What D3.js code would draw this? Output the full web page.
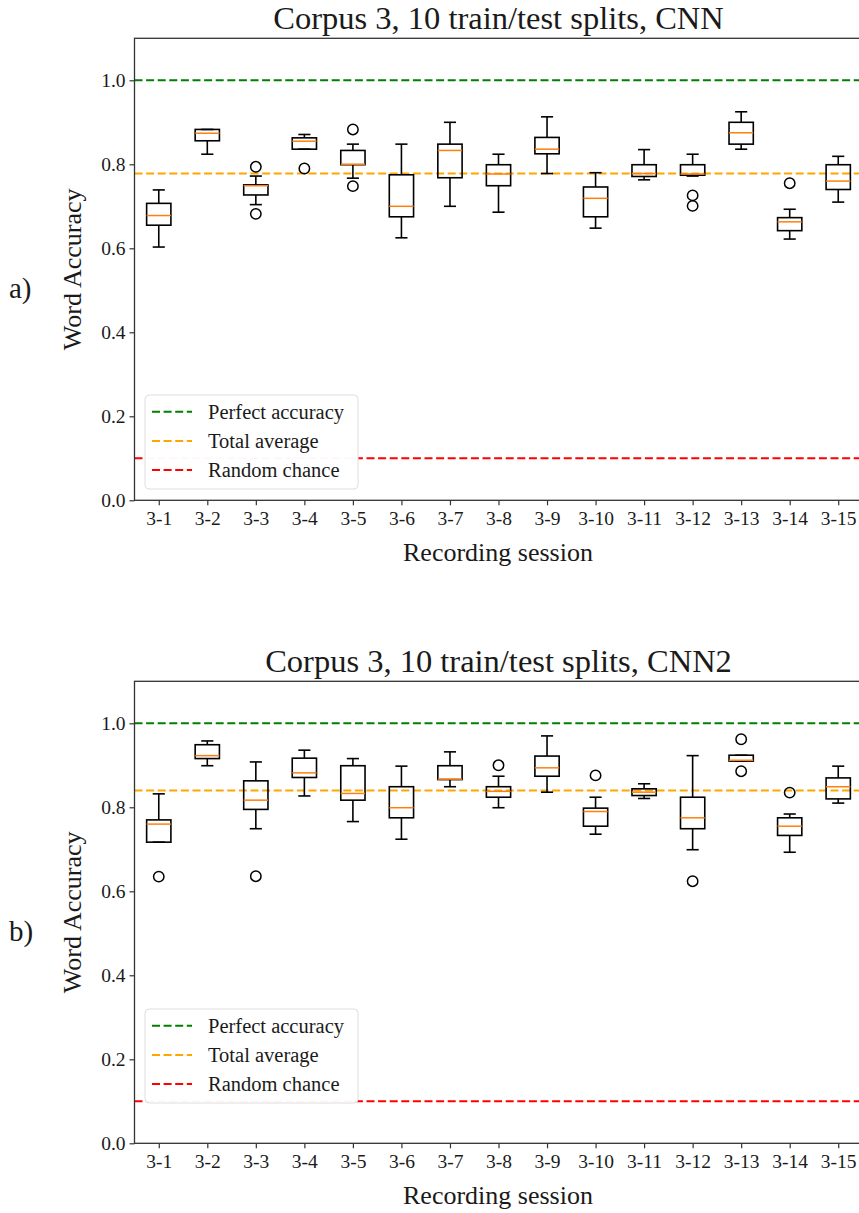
<!DOCTYPE html>
<html>
<head>
<meta charset="utf-8">
<script src="https://cdn.jsdelivr.net/npm/d3@7"></script>
<style>
  html, body { margin: 0; padding: 0; background: #fff; }
  svg { display: block; }
  text { font-family: "Liberation Serif", "Times New Roman", serif; fill: #1a1a1a; }
</style>
</head>
<body>
<script>
// ---------------- data ----------------
const sessions = ["3-1","3-2","3-3","3-4","3-5","3-6","3-7","3-8","3-9","3-10","3-11","3-12","3-13","3-14","3-15"];
const yTicks = [0.0, 0.2, 0.4, 0.6, 0.8, 1.0];

// CNN (panel a)
const cnnLow  = [0.603, 0.824, 0.704, 0.836, 0.767, 0.625, 0.700, 0.686, 0.778, 0.648, 0.763, 0.772, 0.836, 0.622, 0.710];
const cnnQ1   = [0.655, 0.856, 0.727, 0.836, 0.799, 0.675, 0.768, 0.749, 0.825, 0.675, 0.771, 0.774, 0.848, 0.642, 0.740];
const cnnMed  = [0.678, 0.874, 0.749, 0.855, 0.800, 0.700, 0.833, 0.777, 0.836, 0.719, 0.778, 0.777, 0.875, 0.663, 0.760];
const cnnQ3   = [0.707, 0.883, 0.751, 0.863, 0.833, 0.775, 0.848, 0.799, 0.864, 0.746, 0.799, 0.799, 0.900, 0.673, 0.799];
const cnnHigh = [0.739, 0.883, 0.772, 0.871, 0.848, 0.848, 0.900, 0.824, 0.913, 0.780, 0.835, 0.824, 0.925, 0.693, 0.819];
const cnnOutliers = [[], [], [0.794, 0.682], [0.790], [0.883, 0.748], [], [], [], [], [], [], [0.726, 0.701], [], [0.755], []];
const cnnAverage = 0.778;

// CNN2 (panel b)
const cnn2Low  = [0.717, 0.899, 0.749, 0.827, 0.766, 0.724, 0.849, 0.799, 0.836, 0.736, 0.821, 0.699, 0.910, 0.693, 0.810];
const cnn2Q1   = [0.717, 0.916, 0.795, 0.871, 0.817, 0.775, 0.866, 0.824, 0.874, 0.755, 0.828, 0.749, 0.910, 0.733, 0.820];
const cnn2Med  = [0.760, 0.923, 0.817, 0.882, 0.833, 0.799, 0.867, 0.838, 0.894, 0.790, 0.836, 0.775, 0.912, 0.755, 0.849];
const cnn2Q3   = [0.770, 0.949, 0.863, 0.917, 0.899, 0.849, 0.899, 0.849, 0.922, 0.798, 0.844, 0.824, 0.924, 0.775, 0.870];
const cnn2High = [0.832, 0.958, 0.908, 0.936, 0.916, 0.898, 0.932, 0.874, 0.970, 0.824, 0.856, 0.923, 0.924, 0.784, 0.898];
const cnn2Outliers = [[0.635], [], [0.636], [], [], [], [], [0.900], [], [0.876], [], [0.624], [0.962, 0.886], [0.835], []];
const cnn2Average = 0.840;

const perfectAccuracy = 1.0;
const randomChance = 0.1;

const legendLabels = ["Perfect accuracy", "Total average", "Random chance"];
const legendColors = ["#008000", "#ffa500", "#ff0000"];

// ---------------- layout ----------------
const W = 859, H = 1213;
const svg = d3.select("body").append("svg").attr("width", W).attr("height", H);
svg.append("rect").attr("width", W).attr("height", H).attr("fill", "#fff");

const panels = [
  { title: "Corpus 3, 10 train/test splits, CNN", tag: "a)", top: 38.3, bottom: 500.3, legendTop: 395,
    low: cnnLow, q1: cnnQ1, med: cnnMed, q3: cnnQ3, high: cnnHigh, outliers: cnnOutliers, avg: cnnAverage },
  { title: "Corpus 3, 10 train/test splits, CNN2", tag: "b)", top: 681.3, bottom: 1143.3, legendTop: 1009,
    low: cnn2Low, q1: cnn2Q1, med: cnn2Med, q3: cnn2Q3, high: cnn2High, outliers: cnn2Outliers, avg: cnn2Average }
];

const left = 134.5, right = 862.5;
const x = d3.scaleLinear().domain([0.5, sessions.length + 0.5]).range([left, right]);
const boxW = x(1.25) - x(1);      // half-width of box (0.25 data units)
const capW = x(1.125) - x(1);     // half-width of caps

panels.forEach(p => {
  const y = d3.scaleLinear().domain([0, 1.1]).range([p.bottom, p.top]);
  const g = svg.append("g");

  // reference lines
  const refs = [
    { v: perfectAccuracy, c: legendColors[0] },
    { v: p.avg, c: legendColors[1] },
    { v: randomChance, c: legendColors[2] }
  ];
  g.selectAll("line.ref").data(refs).join("line")
    .attr("x1", left).attr("x2", right)
    .attr("y1", d => y(d.v)).attr("y2", d => y(d.v))
    .attr("stroke", d => d.c).attr("stroke-width", 2)
    .attr("stroke-dasharray", "8,3.6");

  const boxes = sessions.map((s, i) => ({
    pos: i + 1, low: p.low[i], q1: p.q1[i], med: p.med[i], q3: p.q3[i], high: p.high[i], out: p.outliers[i]
  }));

  const bg = g.selectAll("g.box").data(boxes).join("g");
  const sw = 1.6;
  // whiskers
  bg.append("line").attr("x1", d => x(d.pos)).attr("x2", d => x(d.pos))
    .attr("y1", d => y(d.q1)).attr("y2", d => y(d.low))
    .attr("stroke", "#000").attr("stroke-width", sw);
  bg.append("line").attr("x1", d => x(d.pos)).attr("x2", d => x(d.pos))
    .attr("y1", d => y(d.q3)).attr("y2", d => y(d.high))
    .attr("stroke", "#000").attr("stroke-width", sw);
  // caps
  bg.append("line").attr("x1", d => x(d.pos) - capW).attr("x2", d => x(d.pos) + capW)
    .attr("y1", d => y(d.low)).attr("y2", d => y(d.low))
    .attr("stroke", "#000").attr("stroke-width", sw);
  bg.append("line").attr("x1", d => x(d.pos) - capW).attr("x2", d => x(d.pos) + capW)
    .attr("y1", d => y(d.high)).attr("y2", d => y(d.high))
    .attr("stroke", "#000").attr("stroke-width", sw);
  // box
  bg.append("rect").attr("x", d => x(d.pos) - boxW).attr("width", 2 * boxW)
    .attr("y", d => y(d.q3)).attr("height", d => Math.max(0.5, y(d.q1) - y(d.q3)))
    .attr("fill", "none").attr("stroke", "#000").attr("stroke-width", sw);
  // median
  bg.append("line").attr("x1", d => x(d.pos) - boxW).attr("x2", d => x(d.pos) + boxW)
    .attr("y1", d => y(d.med)).attr("y2", d => y(d.med))
    .attr("stroke", "#ff7f0e").attr("stroke-width", 1.5);
  // outliers
  bg.selectAll("circle").data(d => d.out.map(v => ({ pos: d.pos, v }))).join("circle")
    .attr("cx", d => x(d.pos)).attr("cy", d => y(d.v)).attr("r", 5.2)
    .attr("fill", "none").attr("stroke", "#000").attr("stroke-width", 1.5);

  // frame (spines)
  g.append("rect").attr("x", left).attr("y", p.top).attr("width", right - left).attr("height", p.bottom - p.top)
    .attr("fill", "none").attr("stroke", "#333").attr("stroke-width", 1.3);

  // y axis
  const yAxis = d3.axisLeft(y).tickValues(yTicks).tickFormat(d3.format(".1f")).tickSize(5).tickPadding(4);
  const ya = g.append("g").attr("transform", `translate(${left},0)`).call(yAxis);
  ya.select(".domain").remove();
  ya.selectAll(".tick line").attr("stroke", "#333").attr("stroke-width", 1.2);
  ya.selectAll(".tick text").style("font-size", "19.5px").style("font-family", "Liberation Serif, serif").attr("fill", "#222");

  // x axis
  const xAxis = d3.axisBottom(x).tickValues(sessions.map((s, i) => i + 1)).tickFormat((d, i) => sessions[i]).tickSize(5).tickPadding(6);
  const xa = g.append("g").attr("transform", `translate(0,${p.bottom})`).call(xAxis);
  xa.select(".domain").remove();
  xa.selectAll(".tick line").attr("stroke", "#333").attr("stroke-width", 1.2);
  xa.selectAll(".tick text").style("font-size", "19.5px").style("font-family", "Liberation Serif, serif").attr("fill", "#222");

  // title
  g.append("text").attr("x", (left + right) / 2).attr("y", p.top - 9)
    .attr("text-anchor", "middle").style("font-size", "32.5px").text(p.title);
  // x label
  g.append("text").attr("x", (left + right) / 2 - 0.5).attr("y", p.bottom + 61)
    .attr("text-anchor", "middle").style("font-size", "26px").text("Recording session");
  // y label
  const cy = (p.top + p.bottom) / 2;
  g.append("text").attr("transform", `translate(81,${cy}) rotate(-90)`)
    .attr("text-anchor", "middle").style("font-size", "26px").text("Word Accuracy");
  // panel tag
  g.append("text").attr("x", 9).attr("y", cy + 29).style("font-size", "29px").text(p.tag);

  // legend
  const lg = g.append("g").attr("transform", `translate(145,${p.legendTop})`);
  lg.append("rect").attr("width", 213).attr("height", 94).attr("rx", 4)
    .attr("fill", "#fff").attr("fill-opacity", 0.97).attr("stroke", "#dedede").attr("stroke-width", 1);
  const rows = lg.selectAll("g.row").data(legendLabels).join("g")
    .attr("transform", (d, i) => `translate(0,${16.7 + i * 29.2})`);
  rows.append("line").attr("x1", 7).attr("x2", 47).attr("y1", 0).attr("y2", 0)
    .attr("stroke", (d, i) => legendColors[i]).attr("stroke-width", 2).attr("stroke-dasharray", "8,3.6");
  rows.append("text").attr("x", 63).attr("y", 7).style("font-size", "20.5px").text(d => d);
});
</script>
</body>
</html>
